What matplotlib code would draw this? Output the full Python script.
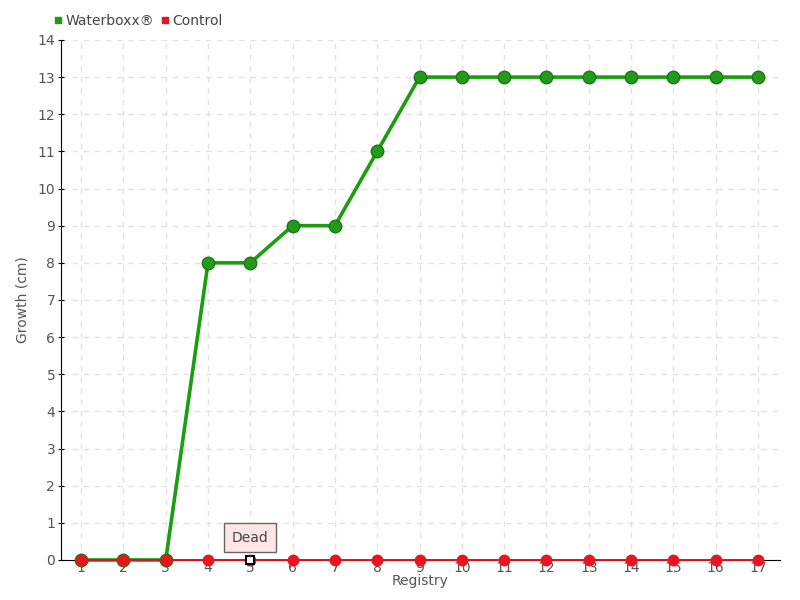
import matplotlib
matplotlib.use("Agg")
import matplotlib.pyplot as plt
from matplotlib.lines import Line2D

# data
registry = list(range(1, 18))
waterboxx = [0, 0, 0, 8, 8, 9, 9, 11, 13, 13, 13, 13, 13, 13, 13, 13, 13]
control = [0] * 17
dead_at = 5  # registry where the control plant is marked as dead

plt.rcParams["font.family"] = ["DejaVu Sans"]

fig = plt.figure(figsize=(8, 6), dpi=100)
ax = fig.add_axes([0.076, 0.0667, 0.899, 0.8667])

ax.plot(registry, waterboxx, color="#1a9e10", linewidth=2.6, marker="o", markersize=9,
        markerfacecolor="#249a1c", markeredgecolor="#1a7a12", markeredgewidth=1,
        zorder=3, clip_on=False)
ax.plot(registry, control, color="#e0101e", linewidth=1.4, marker="o", markersize=7.5,
        markerfacecolor="#e8141e", markeredgecolor="#e8141e", zorder=4, clip_on=False)

# special marker for the dead point
ax.plot([dead_at], [0], marker="s", markersize=6, markerfacecolor="white",
        markeredgecolor="black", markeredgewidth=1.5, linestyle="none", zorder=5, clip_on=False)
ax.annotate("Dead", xy=(dead_at, 0), xytext=(0, 16), textcoords="offset points",
            ha="center", va="center", fontsize=10, color="#444444",
            bbox=dict(boxstyle="square,pad=0.55", fc="#fde6e6", ec="#666666", lw=1),
            arrowprops=dict(arrowstyle="-", color="#666666", lw=0.8), zorder=6)

ax.set_xlim(0.52, 17.52)
ax.set_ylim(0, 14)
ax.set_xticks(registry)
ax.set_yticks(range(0, 15))
ax.tick_params(axis="x", length=0, labelsize=10, labelcolor="#555555", pad=1)
ax.tick_params(axis="y", length=4, direction="inout", labelsize=10, labelcolor="#555555", pad=2)

ax.grid(True, color="#e2e2e2", linestyle=(0, (4, 4)), linewidth=1)
ax.set_axisbelow(True)
for side in ["top", "right"]:
    ax.spines[side].set_visible(False)
ax.spines["left"].set_color("black")
ax.spines["bottom"].set_color("black")

ax.set_xlabel("Registry", fontsize=10, color="#555555", labelpad=-1)
ax.set_ylabel("Growth (cm)", fontsize=10, color="#555555", labelpad=6)

handles = [Line2D([], [], marker="s", color="#1a9e10", linestyle="none", markersize=5),
           Line2D([], [], marker="s", color="#e8141e", linestyle="none", markersize=5)]
fig.legend(handles, ["Waterboxx®", "Control"], loc="upper left", bbox_to_anchor=(0.052, 0.998),
           ncol=2, frameon=False, fontsize=10, handlelength=0.6, handletextpad=0.2,
           columnspacing=0.5, labelcolor="#444444")

fig.savefig("out.png", dpi=100)
